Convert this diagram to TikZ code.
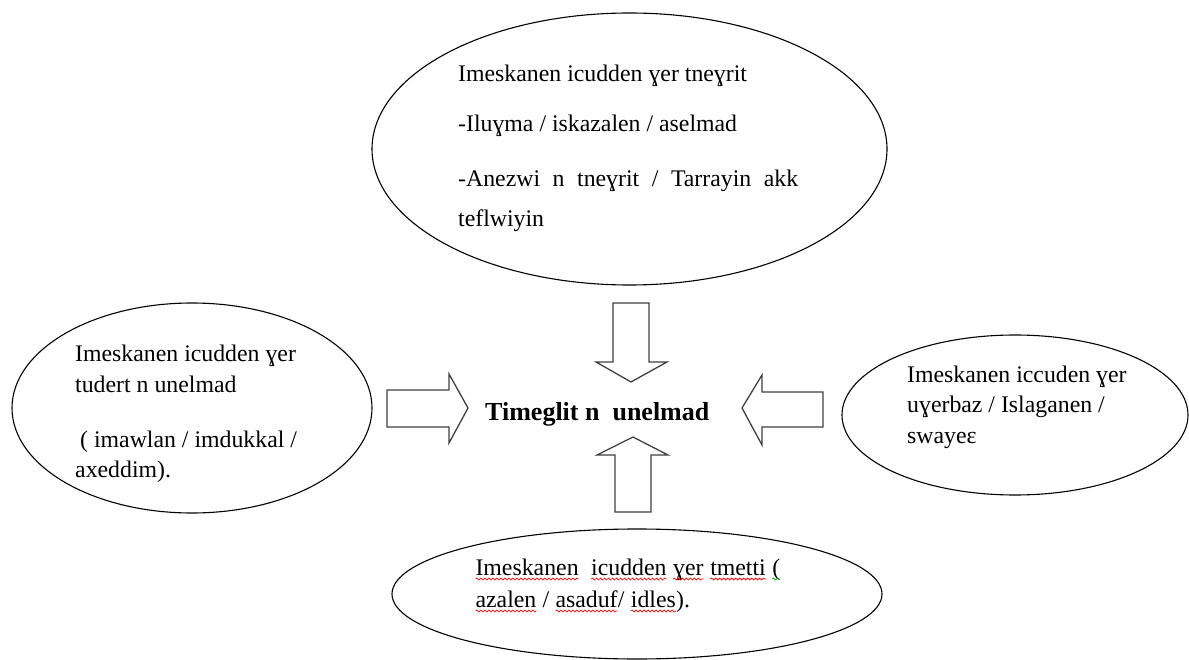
\documentclass[tikz,border=0pt]{standalone}
\usepackage{fontspec}
\setmainfont{Liberation Serif}
\usetikzlibrary{shapes.geometric,decorations.pathmorphing}
\newcommand\spellmark[2][red]{\tikz[baseline=(sqw.base)]{\node[inner sep=0pt,outer sep=0pt](sqw){#2};\draw[#1,line width=0.7pt,decorate,decoration={snake,amplitude=1pt,segment length=4pt}]([yshift=-4pt]sqw.base west)--([yshift=-4pt]sqw.base east);}}
\tikzset{
  bubble/.style={draw=black, line width=1.1pt, ellipse, inner sep=0pt},
  txt/.style={anchor=base west, inner sep=0pt, font=\fontsize{23.8}{28}\selectfont},
  titletxt/.style={anchor=base west, inner sep=0pt, font=\bfseries\fontsize{26}{30}\selectfont},
  blockarrow/.style={draw=black!75, line width=1.3pt, fill=white, line join=miter},
}
\begin{document}
\begin{tikzpicture}[x=1pt,y=-1pt]
\useasboundingbox (0,0) rectangle (1189,660);
% ellipses
\node[bubble, minimum width=515pt, minimum height=272pt] (top) at (629.5,149) {};
\node[bubble, minimum width=360pt, minimum height=210pt] (left) at (192,408) {};
\node[bubble, minimum width=346pt, minimum height=160pt] (right) at (1015,415) {};
\node[bubble, minimum width=490pt, minimum height=130pt] (bottom) at (637,594) {};
% block arrows
\draw[blockarrow] (613,303)--(649,303)--(649,362)--(667,362)--(631,382)--(596,362)--(613,362)--cycle;
\draw[blockarrow] (615,512)--(651,512)--(651,455)--(668,455)--(633,437)--(597,455)--(615,455)--cycle;
\draw[blockarrow] (387,390)--(449,390)--(449,374)--(468,408)--(449,443)--(449,427)--(387,427)--cycle;
\draw[blockarrow] (823,392)--(762,392)--(762,375)--(742,408)--(762,445)--(762,427)--(823,427)--cycle;
% centre
\node[titletxt] (centre) at (485,420) {Timeglit n\ \ unelmad};
% top text
\node[txt] (t1) at (458,82) {Imeskanen icudden ɣer tneɣrit};
\node[txt] (t2) at (458,132) {-Iluɣma / iskazalen / aselmad};
\node[txt] (t3) at (458,187) {\makebox[340pt][s]{-Anezwi n tneɣrit / Tarrayin akk}};
\node[txt] (t4) at (458,227) {teflwiyin};
% left text
\node[txt] (l1) at (75,362) {Imeskanen icudden ɣer};
\node[txt] (l2) at (75,392) {tudert n unelmad};
\node[txt] (l3) at (80,447) {( imawlan / imdukkal /};
\node[txt] (l4) at (75,477) {axeddim).};
% right text
\node[txt] (r1) at (907,382) {Imeskanen iccuden ɣer};
\node[txt] (r2) at (907,412) {uɣerbaz / Islaganen /};
\node[txt] (r3) at (907,443) {swayeɛ};
% bottom text
\node[txt] (b1) at (475,575) {\spellmark{Imeskanen}\ \ \spellmark{icudden} \spellmark{ɣer} \spellmark{tmetti} \spellmark[green!60!black]{(}};
\node[txt] (b2) at (475,607) {\spellmark{azalen} / \spellmark{asaduf}/ \spellmark{idles}).};
\end{tikzpicture}
\end{document}
